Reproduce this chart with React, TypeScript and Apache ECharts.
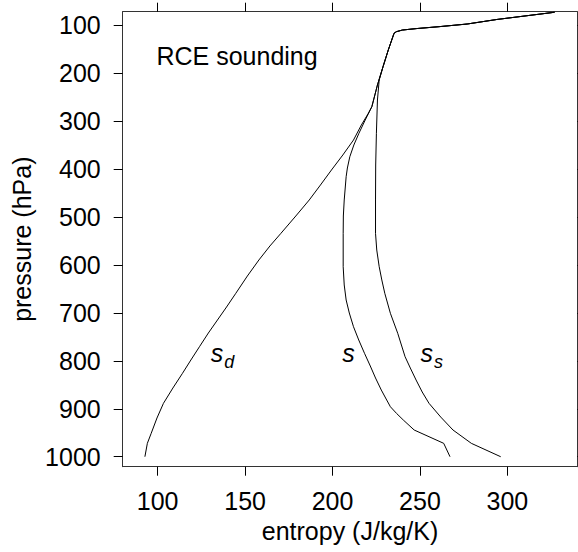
import React, { useEffect, useRef } from "react";
import * as echarts from "echarts";

const FONT = '"Liberation Sans", Arial, Helvetica, sans-serif';

// axis set-up
const xTicks = [100, 150, 200, 250, 300];
const yTicks = [100, 200, 300, 400, 500, 600, 700, 800, 900, 1000];
const xRange = [80, 340];
const yRange = [72.3, 1020.8];

// [entropy (J/kg/K), pressure (hPa)] — part common to all three profiles
const upperShared = [
  [327, 73.5], [294, 88.5], [277, 98], [261, 103.5], [248, 107.5],
  [240, 110.5], [236.5, 114], [235.2, 117.3], [231.9, 152.1], [228.9, 186.9],
];

// dry entropy s_d
const sdLower = [
  [225.7, 225.1], [222.5, 270.3], [220.5, 284.1], [216.5, 308.5], [212.0, 339.8],
  [205.9, 371.0], [199.4, 402.3], [193.1, 433.6], [186.7, 464.8], [179.0, 498.2],
  [170.5, 534.3], [164.2, 560.7], [157.9, 589.9], [151.3, 623.3], [144.7, 659.3],
  [139.4, 687.9], [134.2, 715.0], [129.0, 742.1], [123.9, 770.7], [119.0, 798.4],
  [114.2, 826.1], [108.7, 856.8], [103.3, 888.7], [99.6, 919.3], [96.3, 951.2],
  [94.1, 972.1], [92.7, 1000],
];

// moist entropy s
const sLower = [
  [225.7, 225.1], [222.5, 270.3], [218.7, 298.1], [215.1, 325.8], [212.2, 350.2],
  [209.9, 374.6], [208.5, 398.1], [207.8, 416.3], [206.7, 464.8], [206.2, 498.2],
  [206.1, 534.3], [206.1, 603.9], [206.7, 642.0], [207.8, 673.3], [209.6, 700.4],
  [212.0, 729.0], [215.0, 756.7], [218.3, 784.4], [221.6, 810.9], [224.6, 835.9],
  [227.9, 861.0], [231.0, 881.8], [233.1, 895.8], [236.7, 910.0], [240.5, 923.5],
  [246.7, 944.3], [263.6, 972.1], [267.2, 1000],
];

// saturation entropy s_s
const ssLower = [
  [226.7, 214.7], [225.7, 256.4], [225.1, 325.8], [224.7, 391.9], [224.6, 464.8],
  [224.6, 534.3], [225.3, 569.1], [226.7, 603.9], [228.2, 631.6], [229.9, 659.3],
  [233.1, 701.0], [237.3, 742.7], [241.5, 791.5], [244.5, 815.1], [247.8, 840.1],
  [251.3, 865.1], [255.2, 888.7], [261.9, 917.3], [268.9, 944.3], [279.4, 972.1],
  [296.2, 1000],
];

const seriesNames = ["sd", "s", "ss"];

// text annotations anchored in data coordinates (left edge, baseline)
const curveLabels = [
  { main: "s", sub: "d", entropy: 130.3, pressure: 802 },
  { main: "s", sub: "", entropy: 205.5, pressure: 802 },
  { main: "s", sub: "s", entropy: 250.3, pressure: 802 },
];
const titleText = "RCE sounding";
const titleAnchor = [99.3, 183.4];

const FS = 25;
const SUB_FS = 18;

export default function App() {
  const ref = useRef<HTMLDivElement>(null);

  useEffect(() => {
    if (!ref.current) return;
    const chart = echarts.init(ref.current, undefined, { renderer: "svg" });

    const lineSeries = (name: string, lower: number[][]) => ({
      name,
      type: "line",
      data: [...upperShared, ...lower],
      showSymbol: false,
      symbol: "none",
      smooth: false,
      lineStyle: { color: "#000", width: 1 },
      xAxisIndex: 0,
      yAxisIndex: 0,
      silent: true,
    });

    const axisLineStyle = { show: true, lineStyle: { color: "#333", width: 1 } };
    const tickStyle = { lineStyle: { color: "#000", width: 1 } };
    const plain = (v: number) => String(v);

    chart.setOption({
      animation: false,
      backgroundColor: "#fff",
      textStyle: { fontFamily: FONT },
      grid: {
        left: 122.7,
        right: 0.7,
        top: 11.7,
        bottom: 85.3,
        containLabel: false,
        outerBoundsMode: "none",
      },
      xAxis: [
        {
          type: "value",
          position: "bottom",
          min: xRange[0],
          max: xRange[1],
          name: "entropy (J/kg/K)",
          nameLocation: "middle",
          nameGap: 51,
          nameTextStyle: { fontSize: FS, color: "#000", fontFamily: FONT },
          axisLine: axisLineStyle,
          axisTick: { show: true, inside: false, length: 9, customValues: xTicks, ...tickStyle },
          axisLabel: {
            show: true, margin: 22, fontSize: FS, color: "#000", fontFamily: FONT,
            customValues: xTicks, formatter: plain,
          },
          splitLine: { show: false },
        },
        {
          type: "value",
          position: "top",
          min: xRange[0],
          max: xRange[1],
          axisLine: axisLineStyle,
          axisTick: { show: true, inside: false, length: 9, customValues: xTicks, ...tickStyle },
          axisLabel: { show: false },
          splitLine: { show: false },
        },
      ],
      yAxis: [
        {
          type: "value",
          position: "left",
          inverse: true,
          min: yRange[0],
          max: yRange[1],
          name: "pressure (hPa)",
          nameLocation: "middle",
          nameRotate: 90,
          nameGap: 85,
          nameTextStyle: { fontSize: FS, color: "#000", fontFamily: FONT },
          axisLine: axisLineStyle,
          axisTick: { show: true, inside: false, length: 9, customValues: yTicks, ...tickStyle },
          axisLabel: {
            show: true, margin: 22, fontSize: FS, color: "#000", fontFamily: FONT,
            customValues: yTicks, formatter: plain,
          },
          splitLine: { show: false },
        },
        {
          type: "value",
          position: "right",
          inverse: true,
          min: yRange[0],
          max: yRange[1],
          axisLine: axisLineStyle,
          axisTick: { show: true, inside: false, length: 9, customValues: yTicks, ...tickStyle },
          axisLabel: { show: false },
          splitLine: { show: false },
        },
      ],
      series: [
        lineSeries(seriesNames[0], sdLower),
        lineSeries(seriesNames[1], sLower),
        lineSeries(seriesNames[2], ssLower),
      ],
    });

    const toPx = (e: number, p: number) =>
      chart.convertToPixel({ xAxisIndex: 0, yAxisIndex: 0 }, [e, p]) as number[];

    const graphics: any[] = [];
    const tp = toPx(titleAnchor[0], titleAnchor[1]);
    graphics.push({
      type: "text",
      x: tp[0],
      y: tp[1] - 0.3465 * FS,
      silent: true,
      style: {
        text: titleText,
        fontSize: FS,
        fontFamily: FONT,
        fill: "#000",
        align: "left",
        verticalAlign: "middle",
      },
    });
    curveLabels.forEach((l) => {
      const p = toPx(l.entropy, l.pressure);
      graphics.push({
        type: "text",
        x: p[0],
        y: p[1] - 0.3465 * FS,
        silent: true,
        style: {
          text: l.main,
          fontSize: FS,
          fontStyle: "italic",
          fontFamily: FONT,
          fill: "#000",
          align: "left",
          verticalAlign: "middle",
        },
      });
      if (l.sub) {
        graphics.push({
          type: "text",
          x: p[0] + 13.5,
          y: p[1] + 6.6 - 0.3465 * SUB_FS,
          silent: true,
          style: {
            text: l.sub,
            fontSize: SUB_FS,
            fontStyle: "italic",
            fontFamily: FONT,
            fill: "#000",
            align: "left",
            verticalAlign: "middle",
          },
        });
      }
    });
    chart.setOption({ graphic: graphics });

    return () => {
      chart.dispose();
    };
  }, []);

  return (
    <div
      ref={ref}
      style={{ position: "fixed", left: 0, top: 0, width: 578, height: 552, background: "#fff" }}
    />
  );
}
